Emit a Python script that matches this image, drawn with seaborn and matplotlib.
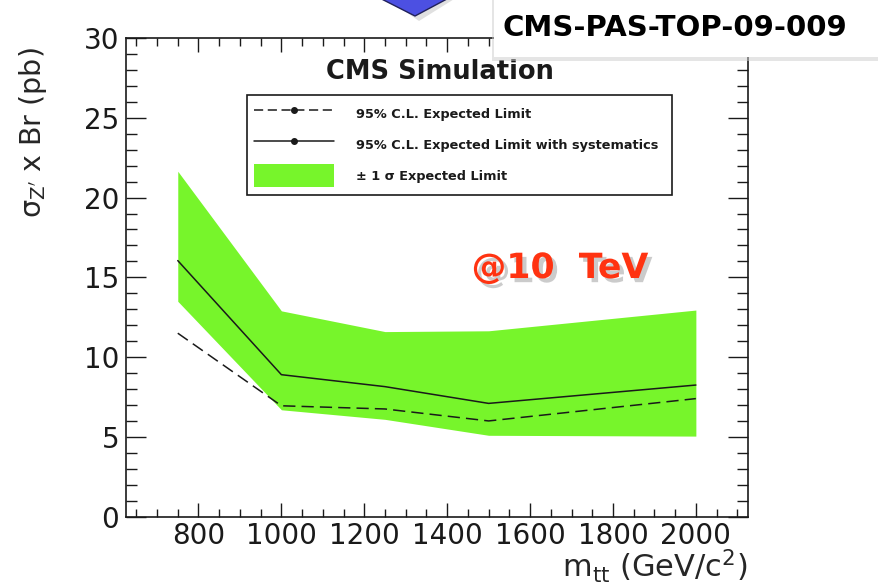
import numpy as np
import pandas as pd
import matplotlib
matplotlib.use("Agg")
import matplotlib.pyplot as plt
import matplotlib.patheffects as pe
from matplotlib.lines import Line2D
from matplotlib.patches import Patch, Rectangle, Polygon
from matplotlib.ticker import MultipleLocator
import seaborn as sns

# ---- data ----
mass = [750, 1000, 1250, 1500, 2000]
expected = [11.5, 6.95, 6.75, 6.0, 7.4]
expected_syst = [16.05, 8.9, 8.15, 7.1, 8.25]
band_lo = [13.5, 6.7, 6.1, 5.1, 5.05]
band_hi = [21.65, 12.9, 11.6, 11.65, 12.95]
xticks = [800, 1000, 1200, 1400, 1600, 1800, 2000]
yticks = [0, 5, 10, 15, 20, 25, 30]
legend_labels = ["95% C.L. Expected Limit",
                 "95% C.L. Expected Limit with systematics",
                 "\u00b1 1 \u03c3 Expected Limit"]

df = pd.DataFrame({"mass": mass, "expected": expected,
                   "syst": expected_syst, "lo": band_lo, "hi": band_hi})

sns.set_style("ticks")
plt.rcParams["font.family"] = ["DejaVu Sans"]
plt.rcParams["mathtext.fontset"] = "dejavusans"

GREEN = "#77f52b"
INK = "#1a1a1a"

fig = plt.figure(figsize=(8.79, 5.85), dpi=100)
ax = fig.add_axes([0.1433, 0.1168, 0.7073, 0.8182])

ax.fill_between(df["mass"], df["lo"], df["hi"], color=GREEN, lw=0, zorder=1)
sns.lineplot(data=df, x="mass", y="syst", ax=ax, color=INK, lw=1.1, zorder=3)
sns.lineplot(data=df, x="mass", y="expected", ax=ax, color=INK, lw=1.1,
             ls=(0, (8, 4)), zorder=3)

ax.set_xlim(625, 2125)
ax.set_ylim(0, 30)
ax.set_xticks(xticks)
ax.set_yticks(yticks)
ax.xaxis.set_minor_locator(MultipleLocator(50))
ax.yaxis.set_minor_locator(MultipleLocator(1))
for s in ax.spines.values():
    s.set_linewidth(1.2)
    s.set_color(INK)
ax.tick_params(axis="x", which="major", direction="in", length=10, width=1.0,
               top=True, bottom=True, labelsize=20, pad=3.5, colors=INK)
ax.tick_params(axis="x", which="minor", direction="in", length=5.8, width=1.0,
               top=True, bottom=True, colors=INK)
ax.tick_params(axis="y", which="major", direction="in", length=14.5, width=1.0,
               left=True, right=True, labelsize=20, pad=5, colors=INK)
ax.tick_params(axis="y", which="minor", direction="in", length=8, width=1.0,
               left=True, right=True, colors=INK)

ax.set_xlabel(r"m$_{\rm tt}$ (GeV/c$^{2}$)", fontsize=22, ha="right", va="center")
ax.xaxis.set_label_coords(1.0, -0.104)
ax.set_ylabel("\u03c3$_{\\rm Z'}$ x Br (pb)", fontsize=20.5, va="center", ha="center")
ax.yaxis.set_label_coords(-0.150, 0.803)

ax.text(0.505, 0.930, "CMS Simulation", transform=ax.transAxes, ha="center",
        va="center", fontsize=18.5, fontweight="bold", color=INK, zorder=6)

handles = [
    Line2D([], [], color=INK, lw=1.1, ls=(0, (6, 3)), marker="o", ms=4),
    Line2D([], [], color=INK, lw=1.1, marker="o", ms=4),
    Patch(facecolor=GREEN, edgecolor="none"),
]
leg = ax.legend(handles, legend_labels, loc="upper left",
                bbox_to_anchor=(0.1946, 0.676, 0.683, 0.205), mode="expand",
                frameon=True, fancybox=False, framealpha=1, fontsize=9.3,
                handlelength=6.2, handleheight=2.45, handletextpad=1.7,
                labelspacing=0.55, borderpad=0.55, borderaxespad=0, numpoints=1)
leg.get_frame().set_edgecolor(INK)
leg.get_frame().set_linewidth(1.2)
for t in leg.get_texts():
    t.set_fontweight("semibold")
    t.set_color(INK)

ax.text(0.698, 0.5195, "@10  TeV", transform=ax.transAxes, ha="center",
        va="center", fontsize=25, fontweight="bold", color="#ff3311",
        path_effects=[pe.withSimplePatchShadow(offset=(3, -3),
                                               shadow_rgbFace="#999999",
                                               alpha=0.5)])

# decorative overlays from the slide
W, H = 879, 585
fig.patches.append(Polygon([(380 / W, 1.01), (419 / W, 1 - 21 / H), (462 / W, 1.01)],
                           closed=True, transform=fig.transFigure,
                           facecolor="#bbbbbb", edgecolor="none", alpha=0.45,
                           zorder=8))
fig.patches.append(Polygon([(372 / W, 1.01), (415 / W, 1 - 16 / H), (456 / W, 1.01)],
                           closed=True, transform=fig.transFigure,
                           facecolor="#4c50e2", edgecolor="#20205a", lw=1.0,
                           zorder=9))
fig.patches.append(Rectangle((492 / W, 1 - 61 / H), 400 / W, 62 / H,
                             transform=fig.transFigure, facecolor="#cccccc",
                             edgecolor="none", alpha=0.5, zorder=10))
fig.patches.append(Rectangle((494 / W, 1 - 57 / H), 400 / W, 60 / H,
                             transform=fig.transFigure, facecolor="white",
                             edgecolor="none", zorder=11))
fig.text(675 / W, 1 - 28 / H, "CMS-PAS-TOP-09-009", ha="center", va="center",
         fontsize=21, fontweight="bold", color="black", zorder=12)

fig.savefig("out.png", dpi=100)
